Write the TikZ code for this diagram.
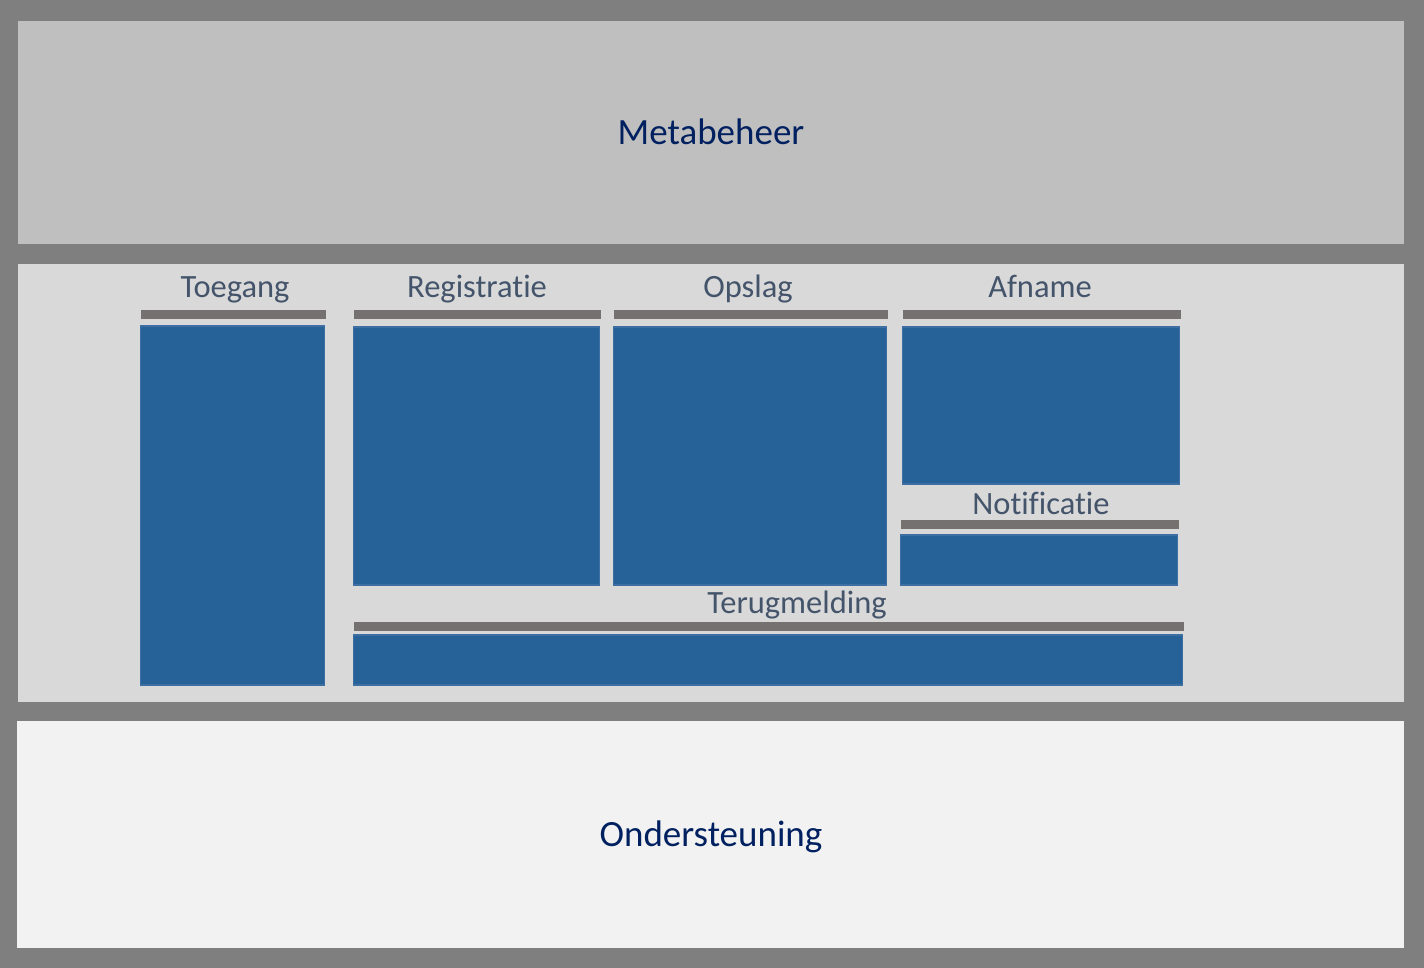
\documentclass[tikz,border=0pt]{standalone}
\usepackage{fontspec}
\setmainfont{Carlito}[Ligatures=NoCommon]
\usepackage{xcolor}
\definecolor{rim}{HTML}{7F7F7F}
\definecolor{metafill}{HTML}{BFBFBF}
\definecolor{corefill}{HTML}{D9D9D9}
\definecolor{supfill}{HTML}{F2F2F2}
\definecolor{navy}{HTML}{002060}
\definecolor{slate}{HTML}{44546A}
\definecolor{barcol}{HTML}{767171}
\definecolor{blockfill}{HTML}{266297}
\definecolor{blockline}{HTML}{3D6FA3}
\tikzset{
  layerlab/.style={text=navy, anchor=base, font=\fontsize{37}{44}\selectfont},
  partlab/.style={text=slate, anchor=base, font=\fontsize{32.5}{39}\selectfont},
  block/.style={fill=blockfill, draw=blockline, line width=1.5pt}
}
\begin{document}
\begin{tikzpicture}[x=1pt, y=-1pt]
		\useasboundingbox (0,0) rectangle (1424,968);
		\fill[rim] (0,0) rectangle (1424,968);
		% the three layers
		\fill[metafill] (18,21) rectangle (1404,244);
		\fill[corefill] (18,264) rectangle (1404,702);
		\fill[supfill] (17,721) rectangle (1404,948);
		\node[layerlab] (meta) at (711,145) {Metabeheer};
		\node[layerlab] (support) at (711,846) {Ondersteuning};
		% parts: name / label x / baseline / bar left / bar right / bar top / box top / box bottom
		\foreach \nm/\lab/\lx/\by/\xa/\xb/\bt/\ta/\tb in {
			toeg/Toegang/235/298/141/326/310/326/685,
			reg/Registratie/477/298/354/601/310/327/585,
			ops/Opslag/748/298/614/888/310/327/585,
			afn/Afname/1040/298/903/1181/310/327/484,
			not/Notificatie/1041/514/901/1179/520/535/585,
			terug/Terugmelding/797/613/354/1184/622/635/685} {
			\node[partlab] (\nm) at (\lx,\by) {\lab};
			\fill[barcol] (\xa,\bt) rectangle (\xb,\bt+8.5);
			\draw[block] (\xa-0.5,\ta) rectangle (\xb-1.5,\tb);
		}
	\end{tikzpicture}
\end{document}
